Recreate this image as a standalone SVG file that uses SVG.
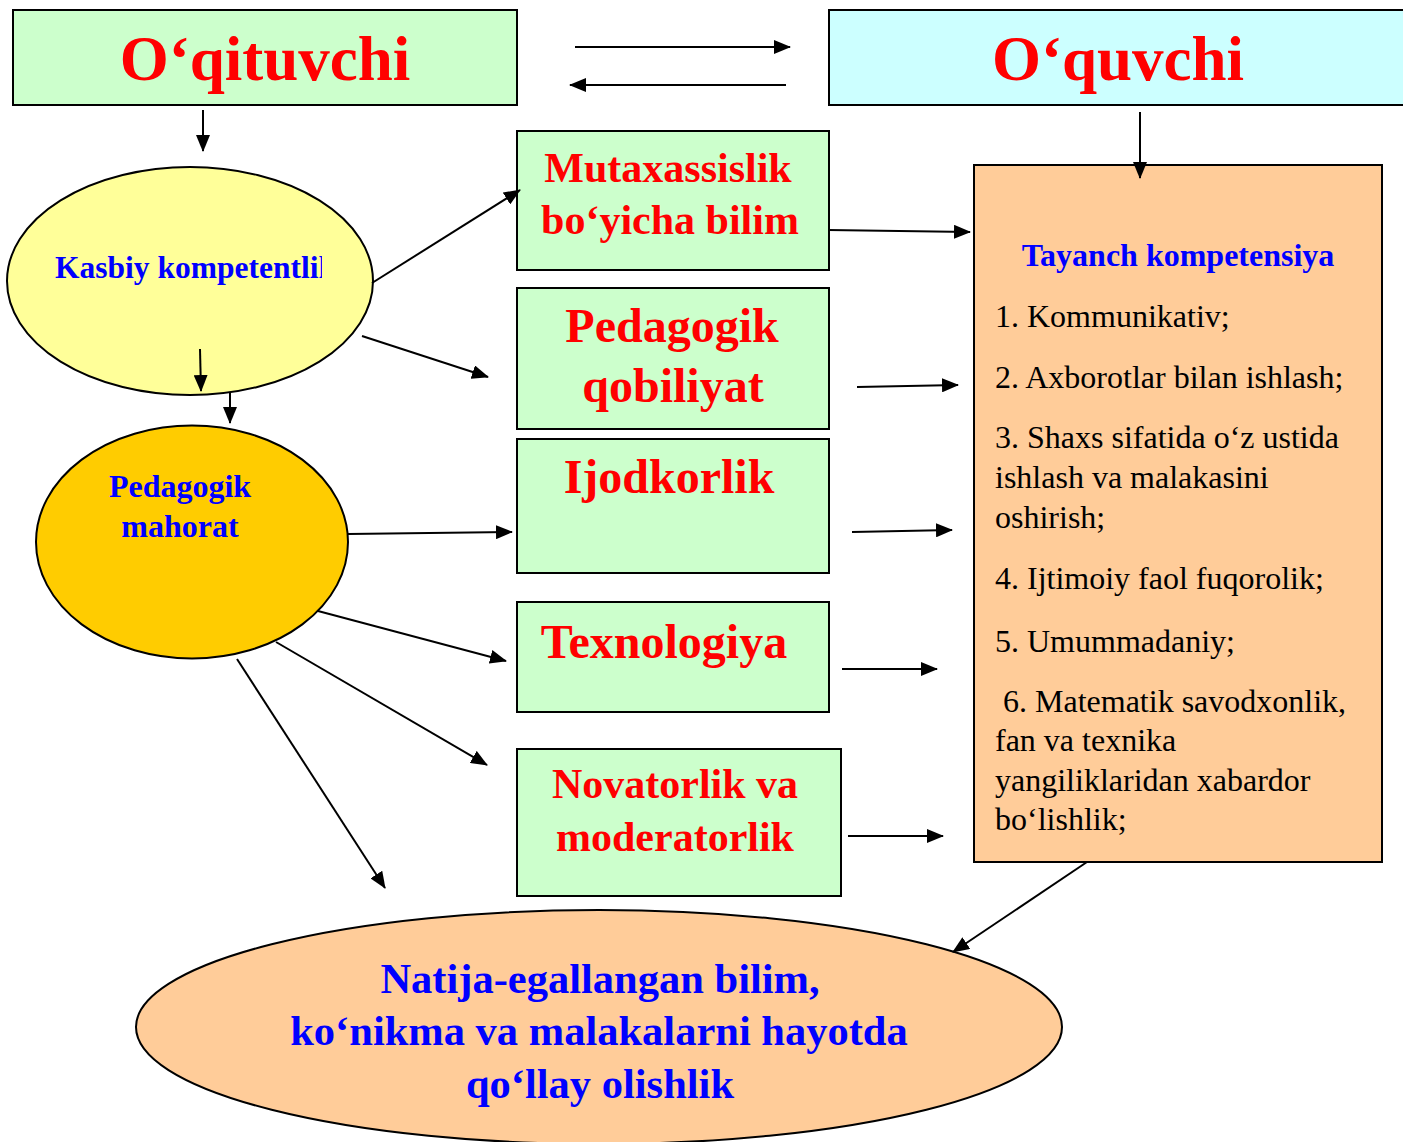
<svg xmlns="http://www.w3.org/2000/svg" width="1403" height="1142" viewBox="0 0 1403 1142">
<style>
.box{stroke:#000;stroke-width:2}
.g{fill:#CCFFCC}
.rt{font-family:"Liberation Serif",serif;font-weight:bold;fill:#FF0000;text-anchor:middle}
.bt{font-family:"Liberation Serif",serif;font-weight:bold;fill:#0000FF}
.lt{font-family:"Liberation Serif",serif;font-size:32px;fill:#000}
.c line{stroke:#000;stroke-width:2;marker-end:url(#ah)}
</style>
<defs>
<marker id="ah" markerUnits="userSpaceOnUse" markerWidth="17" markerHeight="14" refX="16" refY="7" orient="auto">
<path d="M0,0 L17,7 L0,14 Z" fill="#000"/>
</marker>
<clipPath id="kclip"><rect x="0" y="200" width="322" height="120"/></clipPath>
</defs>
<rect width="1403" height="1142" fill="#fff"/>

<g id="oqituvchi">
<rect class="box" x="13" y="10" width="504" height="95" fill="#CCFFCC"/>
<text class="rt" x="265" y="80" font-size="63">O‘qituvchi</text>
</g>
<g id="oquvchi">
<rect class="box" x="829" y="10" width="590" height="95" fill="#CCFFFF"/>
<text class="rt" x="1118" y="80" font-size="63">O‘quvchi</text>
</g>
<g id="kasbiy">
<ellipse class="box" cx="190" cy="281" rx="183" ry="114" fill="#FFFF99"/>
<text class="bt" x="55" y="278" font-size="31.5" clip-path="url(#kclip)">Kasbiy kompetentlik</text>
</g>
<g id="mahorat">
<ellipse class="box" cx="192" cy="542" rx="156" ry="116.5" fill="#FFCC00"/>
<text class="bt" x="180" y="497" font-size="32" text-anchor="middle">Pedagogik</text>
<text class="bt" x="180" y="537" font-size="32" text-anchor="middle">mahorat</text>
</g>
<g id="mutaxassislik">
<rect class="box g" x="517" y="131" width="312" height="139"/>
<text class="rt" x="668" y="182" font-size="42">Mutaxassislik</text>
<text class="rt" x="670" y="234" font-size="42">bo‘yicha bilim</text>
</g>
<g id="qobiliyat">
<rect class="box g" x="517" y="288" width="312" height="141"/>
<text class="rt" x="672" y="342" font-size="48">Pedagogik</text>
<text class="rt" x="673" y="402" font-size="48">qobiliyat</text>
</g>
<g id="ijodkorlik">
<rect class="box g" x="517" y="439" width="312" height="134"/>
<text class="rt" x="669" y="493" font-size="48">Ijodkorlik</text>
</g>
<g id="texnologiya">
<rect class="box g" x="517" y="602" width="312" height="110"/>
<text class="rt" x="664" y="658" font-size="48">Texnologiya</text>
</g>
<g id="novatorlik">
<rect class="box g" x="517" y="749" width="324" height="147"/>
<text class="rt" x="675" y="798" font-size="42">Novatorlik va</text>
<text class="rt" x="675" y="851" font-size="42">moderatorlik</text>
</g>
<g id="tayanch">
<rect class="box" x="974" y="165" width="408" height="697" fill="#FFCC99"/>
<text class="bt" x="1178" y="266" font-size="32" text-anchor="middle">Tayanch kompetensiya</text>
<text class="lt" x="995" y="327">1. Kommunikativ;</text>
<text class="lt" x="995" y="388">2. Axborotlar bilan ishlash;</text>
<text class="lt" x="995" y="448">3. Shaxs sifatida o‘z ustida</text>
<text class="lt" x="995" y="488">ishlash va malakasini</text>
<text class="lt" x="995" y="528">oshirish;</text>
<text class="lt" x="995" y="589">4. Ijtimoiy faol fuqorolik;</text>
<text class="lt" x="995" y="652">5. Umummadaniy;</text>
<text class="lt" x="1003" y="712">6. Matematik savodxonlik,</text>
<text class="lt" x="995" y="751">fan va texnika</text>
<text class="lt" x="995" y="791">yangiliklaridan xabardor</text>
<text class="lt" x="995" y="830">bo‘lishlik;</text>
</g>
<g id="natija">
<ellipse class="box" cx="599" cy="1027" rx="463" ry="117" fill="#FFCC99"/>
<text class="bt" x="600" y="993" font-size="42.5" text-anchor="middle">Natija-egallangan bilim,</text>
<text class="bt" x="599" y="1045" font-size="42.5" text-anchor="middle">ko‘nikma va malakalarni hayotda</text>
<text class="bt" x="600" y="1098" font-size="42.5" text-anchor="middle">qo‘llay olishlik</text>
</g>

<g id="connectors" class="c">
<line x1="575" y1="47" x2="790" y2="47"/>
<line x1="786" y1="85" x2="570" y2="85"/>
<line x1="203" y1="110" x2="203" y2="151"/>
<line x1="200" y1="349" x2="201" y2="391"/>
<line x1="230" y1="393" x2="230" y2="423"/>
<line x1="1140" y1="112" x2="1140" y2="178"/>
<line x1="372" y1="283" x2="520" y2="190"/>
<line x1="362" y1="336" x2="488" y2="377"/>
<line x1="348" y1="534" x2="512" y2="532"/>
<line x1="318" y1="611" x2="506" y2="661"/>
<line x1="276" y1="642" x2="487" y2="765"/>
<line x1="237" y1="659" x2="385" y2="888"/>
<line x1="828" y1="230" x2="970" y2="232"/>
<line x1="857" y1="387" x2="958" y2="385"/>
<line x1="852" y1="532" x2="952" y2="530"/>
<line x1="842" y1="669" x2="937" y2="669"/>
<line x1="848" y1="836" x2="943" y2="836"/>
<line x1="1087" y1="862" x2="953" y2="952"/>
</g>
</svg>
